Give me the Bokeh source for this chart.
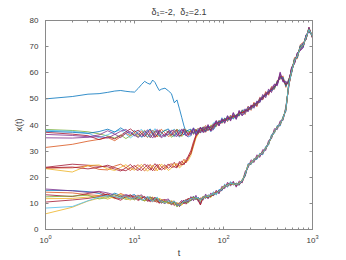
from bokeh.plotting import figure
from bokeh.models import LogAxis, LinearAxis, LogTicker, FixedTicker, Range1d
from bokeh.embed import file_html
from bokeh.resources import INLINE

# time grid (log-spaced sampling of the trajectories)
t = [1, 2, 3, 4, 5, 6, 7, 8, 9, 10,
     11, 12, 13, 14, 15, 16, 17, 18, 19, 20,
     22, 24, 26, 28, 30, 32, 34, 36, 38, 40,
     43, 46, 49, 52, 55, 59, 63, 67, 72, 77,
     83, 89, 96, 103, 111, 120, 129, 139, 150, 162,
     175, 189, 204, 220, 237, 256, 276, 298, 321, 346,
     373, 402, 433, 466, 502, 540, 582, 627, 676, 728,
     785, 846, 912, 1000]

x_ticks = [1, 10, 100, 1000]
y_ticks = [0, 10, 20, 30, 40, 50, 60, 70, 80]
title_text = "\u03b4\u2081=-2, \u00a0\u03b4\u2082=2.1"

# trajectory starting near 50
x_blue = [50.0, 50.9, 51.8, 52.0, 52.5, 53.0, 53.2, 52.9, 52.7, 52.6,
          54.0, 55.5, 56.7, 56.0, 55.6, 57.2, 56.3, 54.6, 53.2, 53.7,
          54.1, 53.1, 52.0, 48.5, 49.6, 46.2, 42.8, 39.6, 37.4, 37.9,
          36.5, 38.9, 37.2, 38.1, 37.6, 39.0, 37.7, 39.6, 38.1, 39.2,
          41.0, 40.0, 42.2, 41.2, 42.9, 42.2, 43.9, 42.7, 44.9, 44.2,
          45.3, 46.6, 46.3, 48.2, 47.7, 50.1, 50.3, 52.1, 52.3, 54.1,
          54.3, 56.3, 58.9, 57.1, 55.7, 56.2, 61.3, 64.2, 66.9, 69.2,
          70.8, 73.3, 76.8, 73.8]

# group starting near 24
x_b1 = [23.8, 25.0, 24.6, 24.2, 24.0, 23.1, 22.4, 23.6, 24.9, 23.2,
        22.6, 23.9, 25.1, 23.8, 22.7, 24.0, 25.2, 24.1, 22.9, 23.6,
        24.8, 23.4, 24.6, 25.7, 23.9, 25.4, 26.2, 24.8, 26.8, 28.0,
        30.2, 33.6, 36.1, 37.6, 38.9, 37.3, 38.0, 39.8, 37.9, 39.6,
        41.4, 39.9, 42.0, 41.8, 42.3, 43.0, 43.2, 43.6, 44.0, 45.0,
        44.6, 46.5, 46.8, 47.9, 47.6, 49.8, 50.0, 51.9, 52.0, 53.9,
        54.8, 55.8, 59.0, 57.2, 55.9, 56.3, 61.4, 64.0, 66.8, 69.3,
        70.3, 73.9, 76.3, 74.2]
x_b2 = [23.5, 23.6, 24.4, 23.0, 22.8, 24.3, 25.0, 23.7, 22.6, 23.9,
        24.8, 23.5, 22.4, 23.6, 24.9, 23.3, 22.5, 23.8, 25.0, 24.1,
        22.9, 24.6, 25.2, 23.9, 25.3, 24.2, 25.6, 26.9, 25.5, 27.0,
        29.6, 32.9, 35.4, 37.2, 37.4, 38.6, 37.2, 38.8, 39.2, 38.8,
        40.0, 41.4, 41.0, 42.3, 42.1, 42.9, 43.0, 43.7, 43.9, 45.3,
        45.1, 45.6, 47.4, 46.8, 48.7, 49.0, 51.3, 50.9, 53.2, 52.8,
        55.0, 55.6, 59.6, 56.9, 56.1, 56.0, 61.8, 63.7, 67.1, 69.0,
        70.1, 74.0, 76.0, 74.4]
x_b3 = [23.3, 22.0, 24.5, 24.7, 23.2, 22.6, 23.8, 24.8, 23.4, 22.7,
        23.9, 24.9, 23.6, 22.3, 23.4, 24.7, 23.6, 22.4, 23.7, 25.0,
        24.0, 22.6, 23.5, 25.2, 24.8, 23.6, 24.4, 25.9, 26.4, 26.3,
        28.4, 31.8, 34.9, 36.6, 38.2, 37.8, 38.9, 38.2, 38.6, 40.3,
        39.8, 40.9, 41.9, 40.8, 43.1, 42.0, 43.8, 42.9, 44.6, 44.2,
        45.6, 45.9, 46.1, 48.1, 47.9, 49.3, 50.8, 51.3, 52.7, 53.3,
        54.0, 56.6, 58.3, 57.8, 55.2, 56.9, 60.8, 64.8, 66.3, 69.8,
        70.7, 73.2, 76.9, 73.7]
x_b4 = [23.6, 23.9, 23.2, 23.8, 24.6, 23.7, 22.9, 22.5, 23.6, 24.5,
        23.3, 22.6, 23.7, 24.8, 23.5, 22.5, 23.9, 24.9, 23.4, 22.8,
        23.7, 25.1, 23.8, 24.0, 23.6, 26.0, 24.7, 25.2, 25.9, 27.5,
        29.0, 32.4, 35.8, 36.9, 37.7, 38.3, 38.6, 38.4, 38.3, 39.9,
        40.8, 40.3, 41.4, 41.6, 42.8, 42.4, 43.5, 43.1, 44.3, 44.9,
        44.9, 46.2, 46.6, 47.7, 48.2, 49.6, 50.4, 51.6, 52.5, 53.6,
        54.4, 56.1, 58.5, 57.6, 55.6, 56.5, 61.0, 64.4, 66.5, 69.5,
        70.5, 73.5, 76.5, 74.0]

# group starting near 31-38
x_a1 = [31.4, 32.6, 33.8, 34.5, 35.2, 34.0, 35.5, 36.8, 35.9, 37.2,
        36.0, 37.8, 36.4, 35.2, 36.9, 38.1, 36.7, 35.4, 37.3, 38.4,
        37.0, 35.6, 36.2, 38.3, 37.5, 35.4, 36.4, 38.6, 37.9, 36.0,
        38.2, 36.4, 37.9, 38.8, 36.9, 38.7, 39.8, 37.8, 39.6, 40.6,
        39.4, 41.8, 40.6, 42.7, 41.3, 43.8, 42.6, 43.9, 43.4, 45.8,
        44.0, 47.2, 45.6, 48.7, 47.0, 50.6, 49.6, 52.8, 51.4, 54.7,
        53.6, 57.1, 57.4, 58.8, 54.4, 57.6, 60.0, 65.8, 65.4, 70.7,
        71.6, 72.6, 77.5, 73.2]
x_a2 = [36.4, 36.0, 35.5, 36.2, 37.8, 36.5, 35.2, 36.9, 37.5, 35.8,
        37.1, 35.6, 36.8, 38.2, 36.3, 35.0, 36.6, 37.9, 36.2, 35.1,
        36.1, 37.8, 37.5, 36.0, 35.6, 37.3, 38.5, 37.0, 35.8, 37.2,
        36.0, 38.6, 36.3, 36.8, 39.2, 37.1, 37.6, 40.2, 37.6, 38.4,
        41.7, 39.6, 42.5, 40.6, 43.6, 41.5, 44.6, 42.1, 45.6, 43.5,
        46.2, 45.0, 47.7, 46.4, 49.2, 48.5, 51.7, 50.4, 53.8, 52.4,
        55.7, 55.0, 59.8, 56.4, 56.8, 55.4, 62.2, 63.4, 67.7, 68.4,
        69.5, 74.6, 75.4, 74.9]
x_a3 = [38.3, 37.9, 37.4, 36.6, 35.8, 35.0, 36.2, 34.8, 35.9, 36.7,
        35.4, 36.9, 38.0, 36.5, 35.1, 36.4, 37.8, 36.9, 35.5, 36.8,
        38.1, 37.2, 35.3, 36.1, 38.4, 37.6, 35.6, 36.5, 38.2, 37.4,
        37.6, 37.0, 38.4, 36.5, 38.1, 39.3, 38.0, 38.4, 39.9, 39.0,
        40.2, 41.3, 41.0, 42.4, 42.0, 43.4, 42.9, 44.0, 44.1, 45.2,
        45.3, 46.4, 46.2, 48.0, 47.6, 50.0, 50.2, 51.9, 52.2, 53.9,
        54.2, 56.5, 58.1, 57.9, 55.1, 56.9, 60.6, 64.9, 66.2, 69.9,
        70.9, 73.1, 76.9, 73.6]
x_a4 = [38.0, 37.6, 36.9, 35.1, 36.3, 37.4, 38.2, 36.5, 35.1, 36.2,
        37.5, 38.3, 36.9, 35.4, 36.0, 37.4, 38.6, 37.1, 35.8, 36.5,
        35.4, 36.5, 37.7, 38.4, 36.4, 35.3, 37.4, 38.7, 36.3, 35.4,
        35.8, 38.3, 36.6, 38.6, 37.3, 37.4, 39.4, 38.9, 37.4, 40.8,
        41.3, 40.1, 42.8, 41.0, 43.5, 42.0, 44.3, 42.5, 45.3, 44.0,
        44.4, 46.9, 45.9, 47.1, 48.6, 49.1, 51.2, 51.0, 53.3, 53.0,
        55.2, 55.4, 59.3, 56.8, 56.2, 55.9, 61.6, 63.9, 67.2, 68.9,
        70.0, 74.2, 75.9, 74.5]
x_a5 = [37.6, 37.2, 36.8, 37.5, 38.4, 37.3, 38.9, 37.6, 36.4, 37.9,
        36.6, 35.3, 36.1, 37.6, 38.5, 37.0, 35.6, 36.2, 37.7, 37.0,
        37.9, 38.5, 36.6, 35.6, 37.0, 38.2, 36.9, 36.2, 37.6, 38.0,
        38.4, 36.7, 37.4, 37.2, 38.9, 38.6, 37.4, 39.7, 38.9, 38.2,
        39.9, 41.6, 40.8, 42.6, 41.6, 43.2, 42.3, 43.8, 43.6, 45.6,
        45.8, 45.4, 47.3, 46.9, 48.9, 48.8, 50.9, 51.2, 52.9, 53.2,
        53.9, 56.8, 57.8, 58.3, 54.8, 57.3, 60.4, 65.3, 65.8, 70.3,
        71.2, 72.9, 77.2, 73.4]
x_a6 = [35.1, 35.0, 35.3, 35.6, 35.0, 36.4, 37.6, 38.3, 37.0, 36.1,
        35.2, 36.4, 37.6, 36.8, 35.3, 36.2, 37.5, 38.3, 37.0, 35.6,
        36.6, 36.2, 38.0, 37.6, 36.0, 36.7, 38.0, 37.9, 36.0, 35.6,
        36.8, 38.9, 36.1, 38.3, 37.0, 39.2, 38.8, 37.9, 39.3, 39.8,
        41.6, 39.8, 42.2, 40.9, 43.4, 41.7, 44.8, 42.3, 45.4, 43.6,
        44.7, 47.0, 46.0, 48.4, 47.3, 50.4, 49.8, 52.4, 51.8, 54.4,
        55.5, 55.3, 60.3, 56.6, 56.5, 55.7, 62.0, 63.6, 67.4, 68.6,
        69.8, 74.4, 75.7, 74.7]
x_a7 = [37.2, 36.5, 35.9, 34.4, 35.5, 34.7, 36.0, 37.4, 38.5, 37.3,
        38.0, 36.8, 35.5, 36.9, 38.0, 36.6, 35.2, 36.5, 38.1, 37.4,
        35.6, 37.6, 36.0, 37.3, 38.2, 35.8, 36.2, 38.4, 37.4, 36.4,
        37.4, 37.3, 38.2, 36.9, 39.1, 37.5, 39.1, 39.3, 37.8, 40.1,
        40.6, 40.9, 41.7, 41.9, 42.4, 42.7, 43.4, 43.3, 44.8, 44.7,
        45.5, 45.7, 47.1, 47.4, 48.3, 49.4, 50.6, 51.6, 52.6, 53.6,
        54.6, 56.2, 58.6, 57.4, 55.4, 56.6, 61.1, 64.6, 66.6, 69.6,
        70.6, 73.6, 76.6, 74.0]

# group starting near 6-15
x_c1 = [15.5, 14.8, 14.2, 14.6, 14.0, 13.2, 12.5, 13.4, 12.8, 11.6,
        12.7, 13.3, 11.8, 10.9, 12.4, 12.0, 10.6, 11.7, 11.3, 10.0,
        11.2, 11.7, 9.6, 10.8, 9.0, 10.3, 11.2, 9.8, 11.6, 10.4,
        12.6, 11.0, 13.1, 10.8, 12.1, 11.2, 13.6, 11.7, 14.0, 12.8,
        15.1, 13.6, 16.6, 15.6, 18.1, 16.6, 18.5, 16.2, 18.6, 17.8,
        22.2, 23.6, 26.7, 25.6, 28.6, 27.6, 30.6, 30.2, 34.1, 34.7,
        38.6, 38.2, 41.6, 41.7, 47.1, 54.2, 61.5, 63.6, 67.5, 68.7,
        71.4, 72.7, 77.4, 73.3]
x_c2 = [15.0, 14.9, 14.5, 13.8, 12.6, 13.9, 13.0, 12.1, 12.9, 13.4,
        11.9, 12.6, 12.0, 12.3, 11.0, 11.5, 12.1, 10.8, 10.5, 11.4,
        10.1, 10.9, 10.8, 9.5, 10.3, 8.9, 9.7, 11.1, 10.2, 11.7,
        10.9, 12.8, 11.3, 12.4, 10.3, 12.8, 11.9, 13.3, 12.4, 14.4,
        13.3, 15.3, 14.8, 17.3, 16.2, 18.3, 17.0, 17.8, 16.9, 19.2,
        20.3, 25.2, 24.8, 27.2, 26.8, 29.2, 28.6, 31.8, 32.3, 36.3,
        36.8, 39.8, 39.6, 43.3, 45.2, 55.8, 59.8, 65.2, 65.9, 70.2,
        69.9, 74.2, 75.8, 74.6]
x_c3 = [14.3, 14.0, 13.3, 13.0, 13.6, 12.4, 13.8, 12.9, 11.7, 12.5,
        13.2, 11.4, 11.1, 12.6, 11.9, 10.5, 11.6, 11.9, 10.2, 11.0,
        10.6, 9.9, 10.7, 10.9, 9.3, 9.9, 10.6, 9.9, 10.9, 11.4,
        11.9, 12.5, 11.5, 12.0, 11.6, 11.6, 13.2, 12.0, 13.4, 13.1,
        14.6, 14.0, 15.9, 16.0, 17.6, 17.0, 18.1, 16.5, 18.2, 18.0,
        21.6, 24.0, 26.1, 26.0, 28.1, 28.0, 30.1, 30.6, 33.6, 35.0,
        38.1, 38.6, 41.1, 42.0, 46.6, 54.6, 61.1, 64.0, 67.0, 69.0,
        71.0, 73.0, 77.0, 73.5]
x_c4 = [13.3, 12.6, 13.8, 14.4, 13.1, 12.2, 11.8, 13.0, 12.4, 12.9,
        11.4, 12.2, 12.5, 10.8, 11.2, 12.3, 10.9, 10.4, 11.6, 10.6,
        9.9, 11.3, 10.2, 9.2, 10.0, 9.2, 10.4, 11.3, 9.7, 10.8,
        12.2, 11.3, 12.6, 11.1, 9.6, 12.4, 12.2, 12.8, 12.7, 13.8,
        14.3, 14.8, 15.2, 16.9, 16.6, 17.8, 17.2, 17.5, 17.1, 18.8,
        20.8, 24.8, 25.3, 26.8, 27.2, 28.8, 29.1, 31.3, 32.7, 35.8,
        37.2, 39.4, 40.1, 42.8, 45.6, 55.3, 60.3, 64.8, 66.3, 69.8,
        70.2, 73.8, 76.2, 74.3]
x_c5 = [12.5, 12.8, 13.1, 11.7, 12.2, 13.4, 12.3, 11.5, 12.1, 11.3,
        12.3, 11.5, 10.9, 11.9, 12.6, 11.1, 11.3, 12.2, 11.1, 10.3,
        10.8, 10.2, 9.8, 10.6, 8.6, 9.6, 10.1, 10.6, 10.5, 10.1,
        11.3, 12.3, 11.9, 11.8, 11.4, 11.9, 12.7, 12.4, 13.1, 13.4,
        13.8, 14.7, 15.6, 16.4, 17.2, 17.4, 17.6, 17.2, 17.8, 18.4,
        21.2, 24.3, 25.6, 26.3, 27.7, 28.4, 29.7, 30.8, 33.2, 35.3,
        37.6, 38.9, 40.6, 42.3, 46.3, 55.5, 60.6, 64.4, 66.6, 69.4,
        70.6, 73.4, 76.6, 73.9]
x_c6 = [11.8, 11.9, 12.4, 12.9, 11.6, 12.7, 13.5, 11.8, 11.3, 12.0,
        12.8, 12.0, 11.0, 11.2, 12.2, 11.7, 10.5, 11.4, 11.8, 10.9,
        10.3, 11.0, 10.5, 9.6, 9.9, 9.6, 9.3, 10.4, 11.2, 11.5,
        11.6, 11.8, 12.4, 10.9, 11.8, 12.6, 12.3, 13.0, 12.2, 13.9,
        14.4, 14.2, 16.0, 16.7, 16.8, 17.7, 17.4, 17.0, 17.4, 18.9,
        21.4, 24.6, 25.2, 26.9, 27.4, 28.6, 29.4, 31.1, 32.8, 35.6,
        37.4, 39.2, 40.3, 42.6, 45.9, 55.0, 60.5, 64.6, 66.4, 69.6,
        70.4, 73.6, 76.4, 74.1]
x_c7 = [10.5, 11.3, 11.9, 12.6, 13.5, 12.0, 11.2, 12.6, 13.3, 12.2,
        11.1, 11.8, 12.7, 11.5, 10.6, 11.3, 12.4, 11.1, 10.0, 11.2,
        11.5, 10.4, 9.5, 10.3, 9.7, 8.8, 10.6, 10.1, 10.4, 12.0,
        11.0, 12.1, 12.2, 11.3, 9.4, 12.2, 12.8, 12.2, 12.8, 13.2,
        14.1, 14.4, 15.3, 16.2, 17.4, 17.2, 17.8, 16.8, 17.6, 18.3,
        20.6, 24.4, 25.4, 26.6, 27.3, 28.3, 29.6, 30.9, 33.0, 35.5,
        37.5, 39.0, 40.5, 42.4, 46.0, 55.2, 60.4, 64.5, 66.5, 69.5,
        70.5, 73.5, 76.5, 74.0]
x_c8 = [8.2, 8.8, 11.0, 12.4, 13.0, 12.6, 12.0, 12.9, 11.6, 12.2,
        12.9, 11.2, 11.6, 12.8, 11.4, 10.6, 11.8, 12.4, 10.8, 11.0,
        10.0, 11.1, 10.3, 10.9, 9.5, 9.3, 10.0, 11.0, 10.8, 11.2,
        11.8, 11.7, 12.3, 11.9, 11.3, 12.1, 12.9, 12.6, 13.2, 13.6,
        13.9, 14.6, 15.4, 16.5, 17.0, 17.6, 17.5, 17.3, 17.5, 18.6,
        21.0, 24.5, 25.5, 26.5, 27.5, 28.5, 29.5, 31.0, 33.0, 35.5,
        37.5, 39.0, 40.5, 42.5, 46.0, 55.1, 60.5, 64.5, 66.5, 69.5,
        70.5, 73.5, 76.5, 74.0]
x_c9 = [6.0, 8.5, 10.9, 12.0, 12.9, 11.8, 12.8, 12.2, 13.1, 11.9,
        12.4, 13.0, 11.9, 11.1, 11.8, 12.5, 11.2, 10.7, 11.9, 11.5,
        10.9, 10.1, 11.1, 10.1, 10.2, 10.0, 9.5, 10.7, 11.5, 10.6,
        12.4, 11.4, 12.2, 11.6, 10.8, 11.7, 12.6, 12.8, 12.9, 13.3,
        14.2, 14.5, 15.7, 16.3, 17.1, 17.5, 17.3, 17.4, 17.6, 18.5,
        21.3, 24.7, 25.7, 26.4, 27.6, 28.7, 29.4, 31.2, 32.9, 35.4,
        37.3, 39.1, 40.4, 42.7, 46.1, 54.9, 60.6, 64.7, 66.4, 69.7,
        70.6, 73.4, 76.6, 74.1]

BLUE, ORANGE, YELLOW, PURPLE = "#0072BD", "#D95319", "#EDB120", "#7E2F8E"
GREEN, CYAN, RED = "#77AC30", "#4DBEEE", "#A2142F"

series = [
    (x_blue, BLUE),
    (x_b1, RED), (x_b2, ORANGE), (x_b3, YELLOW), (x_b4, RED),
    (x_a1, ORANGE), (x_a3, GREEN), (x_a4, CYAN), (x_a5, BLUE),
    (x_a7, RED), (x_a6, PURPLE), (x_a2, PURPLE),
    (x_c2, BLUE), (x_c3, ORANGE), (x_c4, RED), (x_c6, YELLOW),
    (x_c9, YELLOW), (x_c7, RED), (x_c1, PURPLE), (x_c5, GREEN), (x_c8, CYAN),
]

FONT = "Liberation Sans"
AX = "#8a8a8a"
TXT = "#3a3a3a"

p = figure(width=346, height=260, x_axis_type="log",
           x_range=Range1d(1, 1000), y_range=Range1d(0, 80),
           output_backend="svg", toolbar_location=None,
           min_border_left=45, min_border_right=34,
           min_border_top=20, min_border_bottom=29)

for vals, col in series:
    p.line(t, vals, line_color=col, line_width=0.8)

p.title.text = title_text
p.title.align = "center"
p.title.text_font = FONT
p.title.text_font_size = "9px"
p.title.text_font_style = "normal"
p.title.text_color = TXT
p.title.standoff = 7

p.grid.visible = False
p.outline_line_color = AX
p.outline_line_width = 1
p.background_fill_color = "white"
p.border_fill_color = "white"

xa = p.xaxis[0]
xa.ticker = LogTicker(desired_num_ticks=4, num_minor_ticks=10)
xa.axis_label = "t"
xa.axis_label_standoff = 2
ya = p.yaxis[0]
ya.ticker = FixedTicker(ticks=y_ticks)
ya.axis_label = "x(t)"
ya.axis_label_standoff = 3

for ax in (xa, ya):
    ax.axis_line_color = AX
    ax.major_tick_line_color = AX
    ax.minor_tick_line_color = AX
    ax.major_tick_in = 3
    ax.major_tick_out = 0
    ax.minor_tick_in = 2
    ax.minor_tick_out = 0
    ax.major_label_text_font = FONT
    ax.major_label_text_font_size = "8px"
    ax.major_label_text_color = TXT
    ax.axis_label_text_font = FONT
    ax.axis_label_text_font_size = "9px"
    ax.axis_label_text_font_style = "normal"
    ax.axis_label_text_color = TXT
xa.major_label_standoff = 5
ya.major_label_standoff = 7

top = LogAxis(ticker=LogTicker(desired_num_ticks=4, num_minor_ticks=10))
right = LinearAxis(ticker=FixedTicker(ticks=y_ticks))
for ax in (top, right):
    ax.axis_line_color = AX
    ax.major_tick_line_color = AX
    ax.minor_tick_line_color = AX
    ax.major_tick_in = 3
    ax.major_tick_out = 0
    ax.minor_tick_in = 2
    ax.minor_tick_out = 0
    ax.major_label_text_font_size = "1px"
    ax.major_label_text_alpha = 0
    ax.major_label_standoff = 0
p.add_layout(top, "above")
p.add_layout(right, "right")

open("out.html", "w").write(file_html(p, INLINE))
